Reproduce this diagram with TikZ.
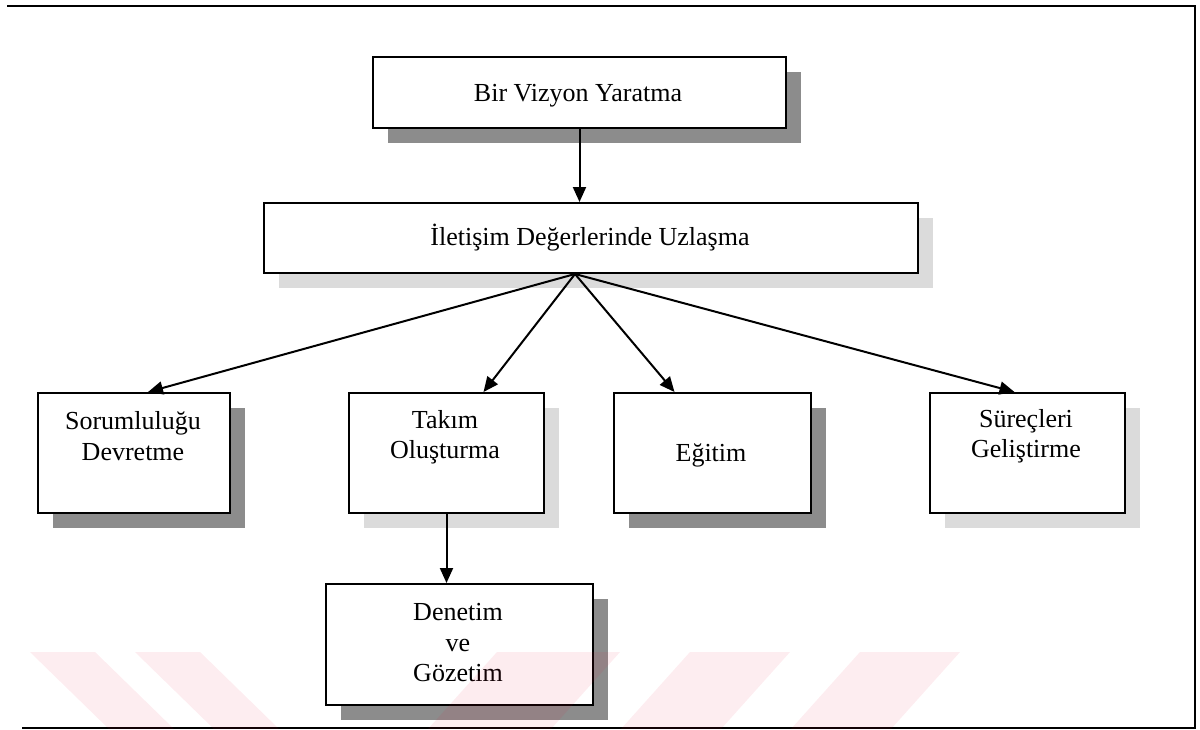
\documentclass[tikz,border=0pt]{standalone}
\usepackage{fontspec}
\setmainfont{Liberation Serif}
\usetikzlibrary{arrows.meta,shadows}
\definecolor{wmark}{RGB}{232,20,60}
\begin{document}
\begin{tikzpicture}[x=1pt,y=-1pt,
  box/.style={draw=black,line width=2pt,fill=white,inner sep=0pt,anchor=north west},
  darkshadow/.style={drop shadow={shadow xshift=15pt,shadow yshift=-15pt,fill=black!45,opacity=1}},
  lightshadow/.style={drop shadow={shadow xshift=15pt,shadow yshift=-15pt,fill=black!14,opacity=1}},
  txt/.style={font=\fontsize{26}{30.5}\selectfont,align=center,inner sep=0pt},
  arr/.style={line width=2pt,-{Triangle[length=15pt,width=13pt]}},
  frameline/.style={line width=2pt},
  stripe/.style={fill=wmark,fill opacity=0.08,draw=none}]
\useasboundingbox (0,0) rectangle (1200,729);

% outer frame (open on the left)
\coordinate (f1) at (7,6);
\coordinate (f2) at (1195,6);
\coordinate (f3) at (1195,729);
\coordinate (f4) at (22,727.5);
\coordinate (f5) at (1195,727.5);
\draw[frameline] (f1) -- (f2) -- (f3);
\draw[frameline] (f4) -- (f5);

% boxes
\node[box,darkshadow,minimum width=413pt,minimum height=71pt] (vis) at (372,56) {};
\node[box,lightshadow,minimum width=654pt,minimum height=70pt] (ilet) at (263,202) {};
\node[box,darkshadow,minimum width=192pt,minimum height=120pt] (sor) at (37,392) {};
\node[box,lightshadow,minimum width=195pt,minimum height=120pt] (tak) at (348,392) {};
\node[box,darkshadow,minimum width=197pt,minimum height=120pt] (egi) at (613,392) {};
\node[box,lightshadow,minimum width=195pt,minimum height=120pt] (sur) at (929,392) {};
\node[box,darkshadow,minimum width=267pt,minimum height=121pt] (den) at (325,583) {};

% labels
\node[txt] (vis-t) at (578,96) {Bir Vizyon Yaratma};
\node[txt] (ilet-t) at (590,238) {İletişim Değerlerinde Uzlaşma};
\node[txt] (sor-t) at (133,436) {Sorumluluğu\\Devretme};
\node[txt] (tak-t) at (445,437) {Takım\\Oluşturma};
\node[txt] (egi-t) at (711,455) {Eğitim};
\node[txt] (sur-t) at (1026,436) {Süreçleri\\Geliştirme};
\node[txt] (den-t) at (458,643) {Denetim\\ve\\Gözetim};

% connectors
\coordinate (hub) at ([xshift=-16pt]ilet.south);
\draw[arr] (vis.south) -- (vis.south |- ilet.north);
\draw[arr] (hub) -- ([xshift=14pt]sor.north);
\draw[arr] (hub) -- ([xshift=37pt]tak.north);
\draw[arr] (hub) -- ([xshift=-38pt]egi.north);
\draw[arr] (hub) -- ([xshift=-13pt]sur.north);
\draw[arr] (tak.south) -- (tak.south |- den.north);

% diagonal band along the bottom
\fill[stripe] (30,652) -- (95,652) -- (174,729) -- (109,729) -- cycle;
\fill[stripe] (135,652) -- (200,652) -- (279,729) -- (214,729) -- cycle;
\fill[stripe] (497,652) -- (620,652) -- (551,729) -- (428,729) -- cycle;
\fill[stripe] (690,652) -- (790,652) -- (721,729) -- (621,729) -- cycle;
\fill[stripe] (860,652) -- (960,652) -- (891,729) -- (791,729) -- cycle;
\end{tikzpicture}
\end{document}
